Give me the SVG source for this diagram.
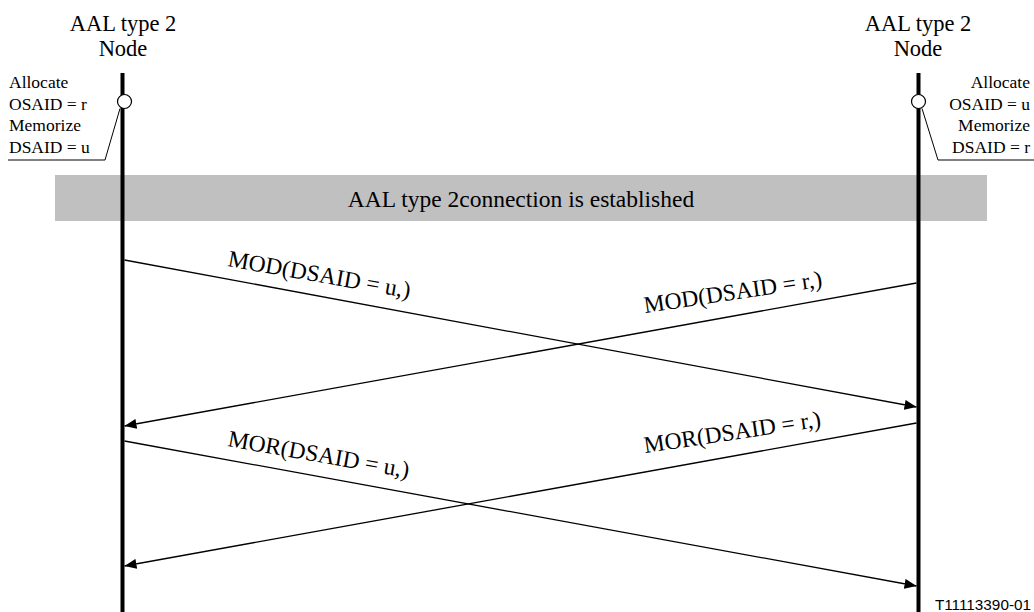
<svg xmlns="http://www.w3.org/2000/svg" width="1034" height="612" viewBox="0 0 1034 612">
<style>
.t{font-family:"Liberation Serif","Times New Roman",Times,serif;fill:#000}
.h{font-size:22.5px;text-anchor:middle}
.a{font-size:17.5px}
.m{font-size:23.5px}
.life{stroke:#000;stroke-width:4;fill:none}
.lead{stroke:#000;stroke-width:1;fill:none}
.msg{stroke:#000;stroke-width:1.3;fill:none;marker-end:url(#ah)}
.f{font-family:"Liberation Sans",Arial,sans-serif;font-size:15.3px;text-anchor:end;fill:#000}
</style>
<defs>
<marker id="ah" viewBox="0 0 12 10" refX="12" refY="5" markerWidth="12" markerHeight="10" markerUnits="userSpaceOnUse" orient="auto">
<path d="M0,0 L12,5 L0,10 Z" fill="#000"/>
</marker>
</defs>
<rect width="1034" height="612" fill="#fff"/>
<g id="band">
<rect x="55" y="175" width="932" height="46" fill="#c0c0c0"/>
<text class="t m" x="521" y="207" text-anchor="middle">AAL type 2connection is established</text>
</g>
<g id="nodeA">
<text class="t h" x="123" y="31">AAL type 2</text>
<text class="t h" x="123" y="56">Node</text>
<line class="life" x1="122.5" y1="73" x2="122.5" y2="612"/>
<circle cx="124.5" cy="101.5" r="7" fill="#fff" stroke="#000" stroke-width="1.2"/>
<polyline class="lead" points="120,108.5 105,160 8,160"/>
<text class="t a" x="9" y="88">Allocate</text>
<text class="t a" x="9" y="109.5">OSAID = r</text>
<text class="t a" x="9" y="131">Memorize</text>
<text class="t a" x="9" y="152.5">DSAID = u</text>
</g>
<g id="nodeB">
<text class="t h" x="918" y="31">AAL type 2</text>
<text class="t h" x="918" y="56">Node</text>
<line class="life" x1="918.5" y1="73" x2="918.5" y2="612"/>
<circle cx="918.5" cy="101.5" r="7" fill="#fff" stroke="#000" stroke-width="1.2"/>
<polyline class="lead" points="922,108.5 938,160 1034,160"/>
<text class="t a" x="1030" y="88" text-anchor="end">Allocate</text>
<text class="t a" x="1030" y="109.5" text-anchor="end">OSAID = u</text>
<text class="t a" x="1030" y="131" text-anchor="end">Memorize</text>
<text class="t a" x="1030" y="152.5" text-anchor="end">DSAID = r</text>
</g>
<g id="connectors">
<line class="msg" x1="124.5" y1="260" x2="916.5" y2="407"/>
<line class="msg" x1="916.5" y1="283" x2="124.5" y2="426"/>
<line class="msg" x1="124.5" y1="441" x2="916.5" y2="586"/>
<line class="msg" x1="916.5" y1="423" x2="124.5" y2="566"/>
<text class="t m" transform="translate(227,266) rotate(10)">MOD(DSAID = u,)</text>
<text class="t m" transform="translate(645,313) rotate(-8.5)">MOD(DSAID = r,)</text>
<text class="t m" transform="translate(227,446) rotate(10)">MOR(DSAID = u,)</text>
<text class="t m" transform="translate(645,453) rotate(-8.5)">MOR(DSAID = r,)</text>
</g>
<text class="f" x="1031" y="610">T11113390-01</text>
</svg>
